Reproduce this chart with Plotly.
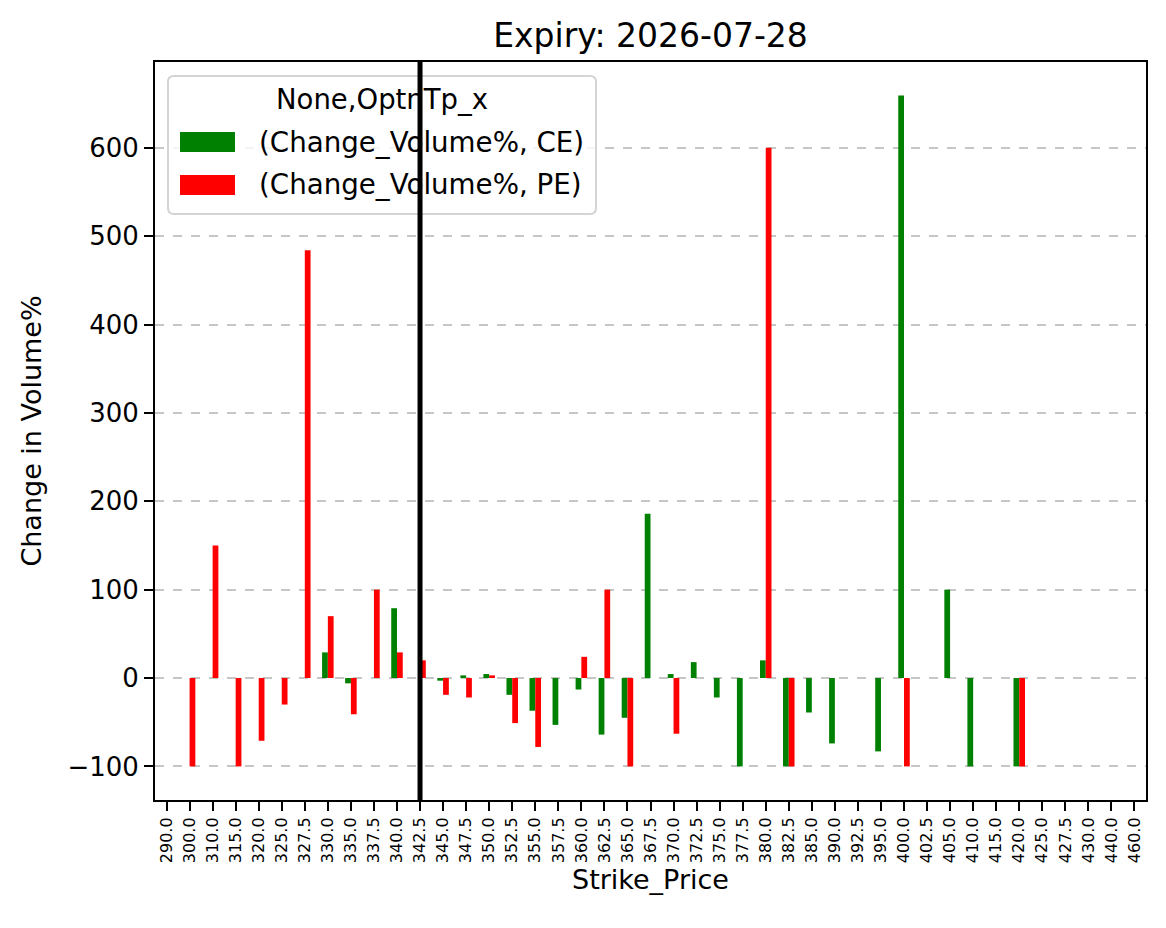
import plotly.graph_objects as go

# ---- data ----
strikes = ["290.0", "300.0", "310.0", "315.0", "320.0", "325.0", "327.5", "330.0",
           "335.0", "337.5", "340.0", "342.5", "345.0", "347.5", "350.0", "352.5",
           "355.0", "357.5", "360.0", "362.5", "365.0", "367.5", "370.0", "372.5",
           "375.0", "377.5", "380.0", "382.5", "385.0", "390.0", "392.5", "395.0",
           "400.0", "402.5", "405.0", "410.0", "415.0", "420.0", "425.0", "427.5",
           "430.0", "440.0", "460.0"]

ce_change = [None, None, None, None, None, None, None, 29,
             -6, None, 79, None, -3, 3, 4.5, -19,
             -37, -53, -13, -64, -45, 186, 4.5, 18,
             -22, -100, 20, -100, -39, -74, None, -83,
             659, None, 100, -100, None, -100, None, None,
             None, None, None]

pe_change = [None, -100, 150, -100, -71, -30, 484, 70,
             -41, 100, 29, 20, -19, -22, 3, -51,
             -78, None, 24, 100, -100, None, -63, None,
             None, None, 600, -100, None, None, None, None,
             -100, None, None, None, None, -100, None, None,
             None, None, None]

series_names = ["(Change_Volume%, CE)", "(Change_Volume%, PE)"]
series_colors = ["green", "red"]
atm_strike = "342.5"
title_text = "Expiry: 2026-07-28"
legend_title = "None,OptnTp_x"
y_ticks = [-100, 0, 100, 200, 300, 400, 500, 600]

FONT = "DejaVu Sans"
W, H = 1166, 928
ML, MR, MT, MB = 155, 20, 62, 128
PW, PH = W - ML - MR, H - MT - MB


def px(xp):
    return (xp - ML) / PW


def py(yp):
    return 1 - (yp - MT) / PH


fig = go.Figure()
for vals, name, col in zip([ce_change, pe_change], series_names, series_colors):
    fig.add_trace(go.Bar(x=strikes, y=vals, name=name, showlegend=False,
                         marker=dict(color=col, line=dict(width=0))))

# ---- legend (drawn as shapes + text to match the wide patch keys) ----
bx0, bx1, by0, by1, r = 168, 596, 76, 214, 6
rx, ry = r / PW, r / PH
X0, X1, Y0, Y1 = px(bx0), px(bx1), py(by1), py(by0)
path = (f"M{X0 + rx},{Y0} L{X1 - rx},{Y0} Q{X1},{Y0} {X1},{Y0 + ry} "
        f"L{X1},{Y1 - ry} Q{X1},{Y1} {X1 - rx},{Y1} L{X0 + rx},{Y1} "
        f"Q{X0},{Y1} {X0},{Y1 - ry} L{X0},{Y0 + ry} Q{X0},{Y0} {X0 + rx},{Y0} Z")
fig.add_shape(type="path", path=path, xref="paper", yref="paper",
              fillcolor="rgba(255,255,255,0.8)",
              line=dict(color="#d4d4d4", width=2), layer="above")

fig.add_annotation(text=legend_title, xref="paper", yref="paper",
                   x=px((bx0 + bx1) / 2), y=py(100), xanchor="center", yanchor="middle",
                   showarrow=False, font=dict(size=27.5, family=FONT, color="black"))
for i, (name, col) in enumerate(zip(series_names, series_colors)):
    cy = 142 + i * 43
    fig.add_shape(type="rect", xref="paper", yref="paper",
                  x0=px(180), x1=px(235), y0=py(cy + 10), y1=py(cy - 10),
                  fillcolor=col, line=dict(width=0), layer="above")
    fig.add_annotation(text=name, xref="paper", yref="paper",
                       x=px(257), y=py(cy), xanchor="left", yanchor="middle",
                       showarrow=False, font=dict(size=27.7, family=FONT, color="black"))

atm_idx = strikes.index(atm_strike)
fig.add_shape(type="line", xref="x", yref="paper", x0=atm_idx, x1=atm_idx,
              y0=0, y1=1, line=dict(color="black", width=5), layer="above")

fig.update_layout(
    width=W, height=H,
    margin=dict(l=ML, r=MR, t=MT, b=MB, autoexpand=False),
    paper_bgcolor="white", plot_bgcolor="white",
    font=dict(family=FONT, color="black", size=26),
    barmode="group", bargap=0.5, bargroupgap=0,
    title=dict(text=title_text, x=0.5, xref="paper", xanchor="center",
               y=1 - 35 / H, yref="container", yanchor="middle",
               font=dict(size=33, family=FONT, color="black")),
    showlegend=False,
)

fig.update_xaxes(
    type="category", categoryorder="array", categoryarray=strikes,
    range=[-0.5, len(strikes) - 0.5],
    tickangle=-90, tickfont=dict(size=16, family=FONT),
    ticks="outside", ticklen=9, tickwidth=2, tickcolor="black",
    showline=True, linecolor="black", linewidth=2, mirror=True,
    showgrid=False, automargin=False,
    title=dict(text="Strike_Price", font=dict(size=27, family=FONT), standoff=8),
)
fig.update_yaxes(
    range=[-138, 697], tickvals=y_ticks,
    tickfont=dict(size=26, family=FONT),
    ticks="outside", ticklen=9, tickwidth=2, tickcolor="black",
    showline=True, linecolor="black", linewidth=2, mirror=True,
    showgrid=True, gridcolor="#c6c6c6", gridwidth=1.5, griddash="dash",
    zeroline=False, automargin=False,
    title=dict(text="Change in Volume%", font=dict(size=27, family=FONT), standoff=18),
)

fig.write_html("out.html")
